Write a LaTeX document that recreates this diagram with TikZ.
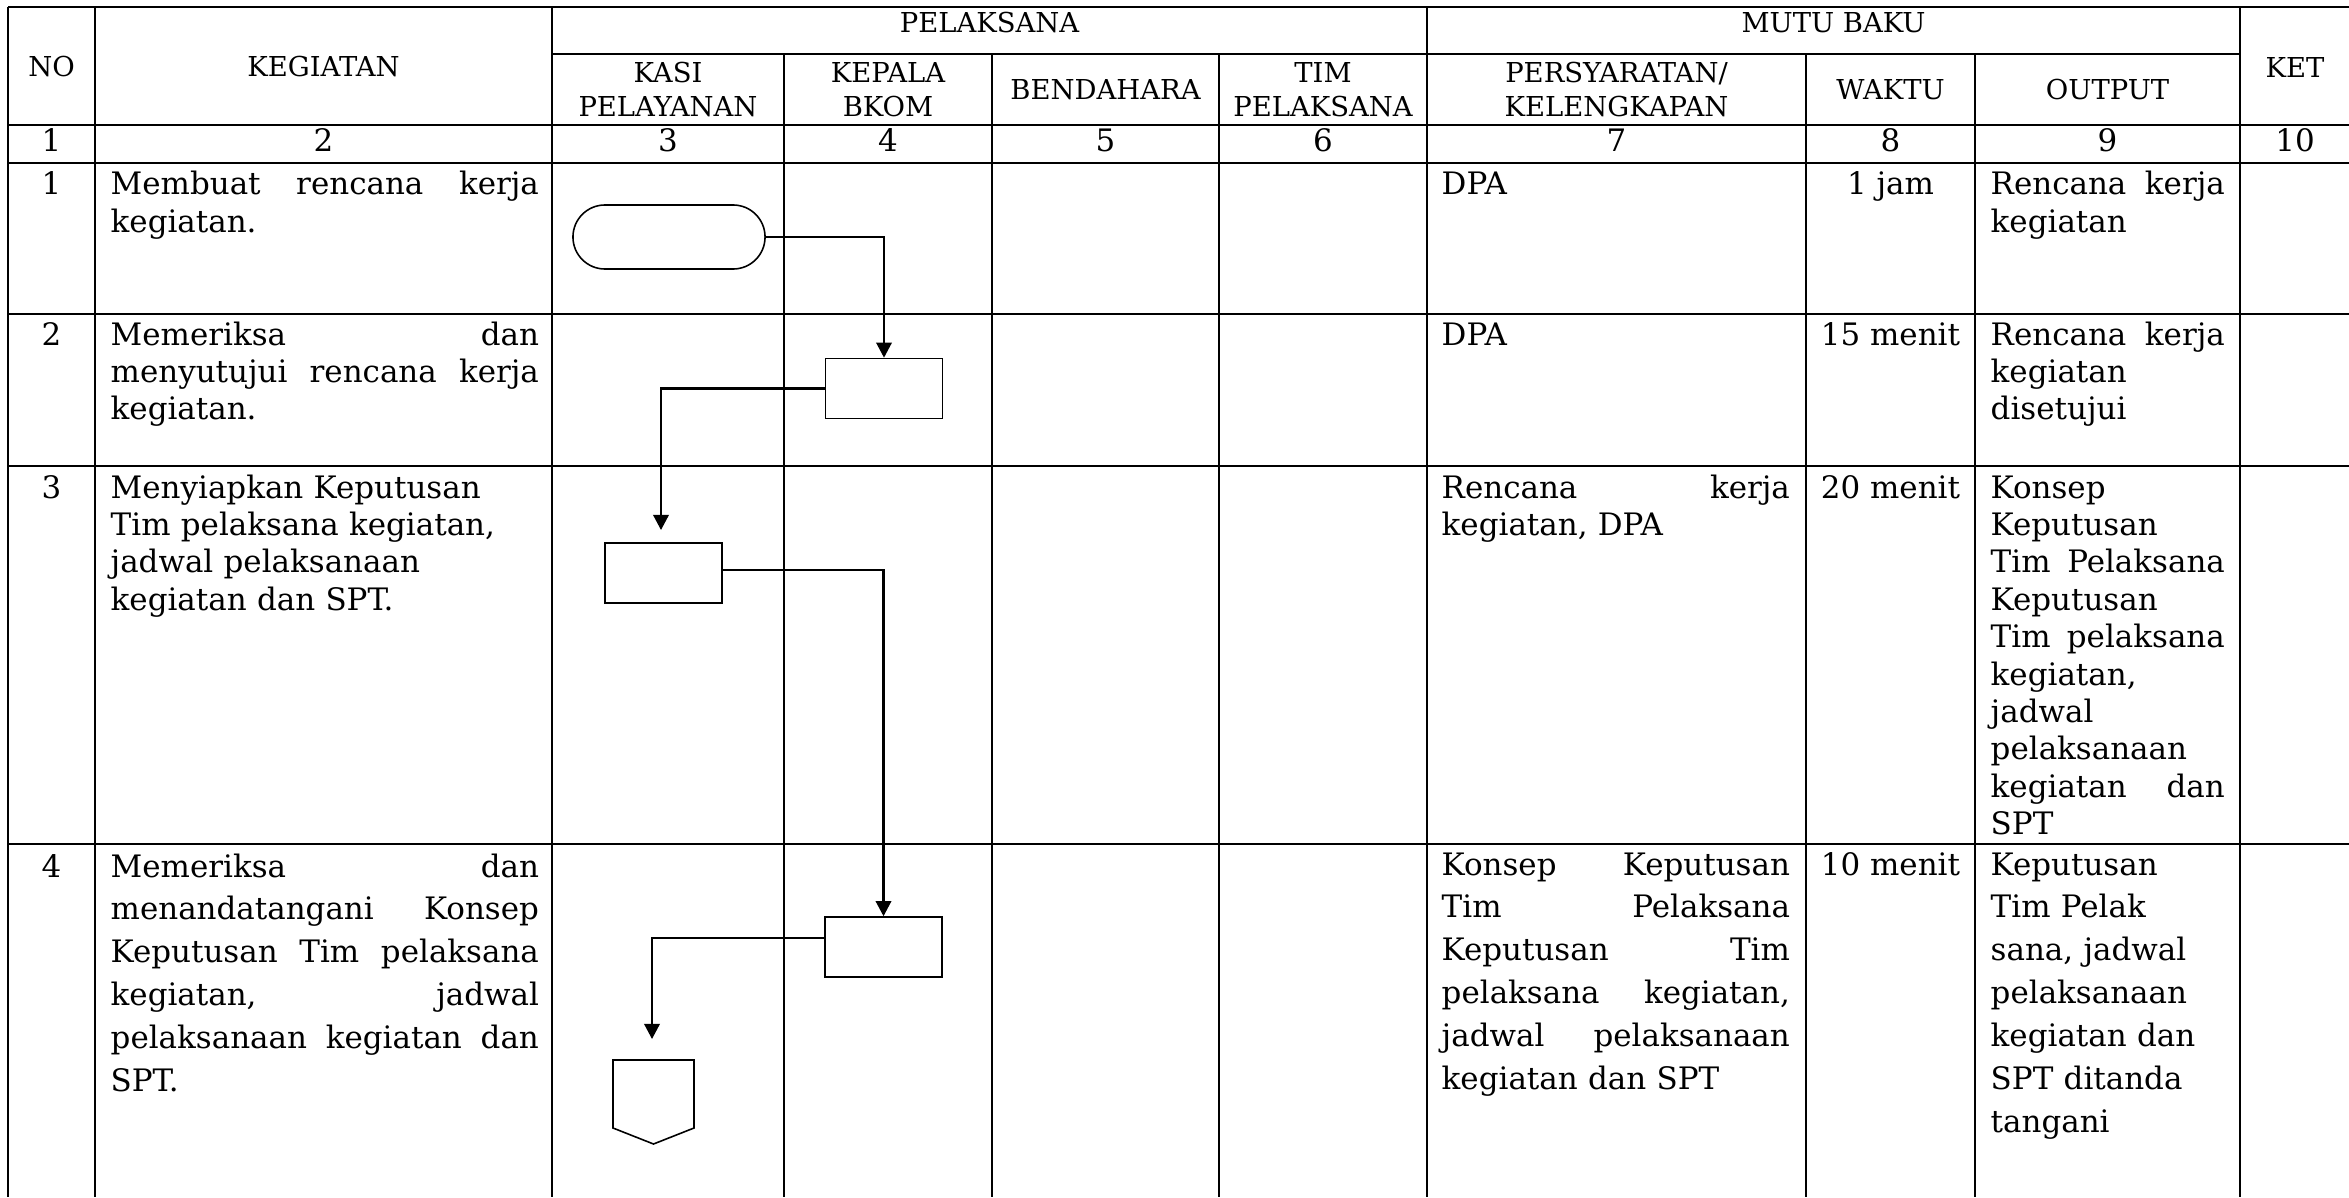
\documentclass[tikz,border=0pt]{standalone}
\usepackage{fontspec}
\setmainfont{DejaVu Serif}
\usetikzlibrary{arrows.meta}

\newlength{\celw}
\newcommand{\jl}[1]{\leavevmode\hbox to \celw{#1}}
\newcommand{\bodyfont}{\fontsize{8.8}{10.64}\selectfont}
\newcommand{\widefont}{\fontsize{8.8}{12.2}\selectfont}
\newcommand{\headfont}{\fontsize{7.8}{9.67}\selectfont}

\begin{document}
\begin{tikzpicture}[x=0.01cm,y=-0.01cm,>={Triangle[length=4.3pt,width=4.4pt]},grid line/.style={line width=0.55pt},flow line/.style={->,line width=0.6pt},head node/.style={inner sep=0pt,anchor=base,align=center,font=\headfont},num node/.style={inner sep=0pt,anchor=base,font=\bodyfont},text node/.style={inner sep=0pt,anchor=base west,align=left,font=\bodyfont},wide node/.style={text node,font=\widefont},keg col/.style={text width=4.28cm,execute at begin node={\setlength{\celw}{4.28cm}}},syarat col/.style={text width=3.48cm,execute at begin node={\setlength{\celw}{3.48cm}}},out col/.style={text width=2.34cm,execute at begin node={\setlength{\celw}{2.34cm}}},box node/.style={draw,line width=0.45pt,inner sep=0pt,minimum width=1.17cm,minimum height=0.6cm},term node/.style={box node,rounded corners=0.32cm,minimum width=1.92cm,minimum height=0.64cm}]
                \useasboundingbox (0,0) rectangle (2349,1197);

                \draw[grid line] (8,7) -- (2349,7);
                \draw[grid line] (552,54) -- (2240,54);
                \draw[grid line] (8,125) -- (2349,125);
                \draw[grid line] (8,163) -- (2349,163);
                \draw[grid line] (8,314) -- (2349,314);
                \draw[grid line] (8,466) -- (2349,466);
                \draw[grid line] (8,844) -- (2349,844);
                \draw[grid line] (8,7) -- (8,1197);
                \draw[grid line] (95,7) -- (95,1197);
                \draw[grid line] (552,7) -- (552,1197);
                \draw[grid line] (784,54) -- (784,1197);
                \draw[grid line] (992,54) -- (992,1197);
                \draw[grid line] (1219,54) -- (1219,1197);
                \draw[grid line] (1427,7) -- (1427,1197);
                \draw[grid line] (1806,54) -- (1806,1197);
                \draw[grid line] (1975,54) -- (1975,1197);
                \draw[grid line] (2240,7) -- (2240,1197);

                \node[head node] (h no) at (51.5,77) {NO};
                \node[head node] (h keg) at (323.5,77) {KEGIATAN};
                \node[head node] (h pel) at (989.5,33) {PELAKSANA};
                \node[head node] (h mutu) at (1833.5,33) {MUTU BAKU};
                \node[head node] (h ket) at (2295,78) {KET};
                \node[head node] (h kasi) at (668,117) {KASI\\PELAYANAN};
                \node[head node] (h kepala) at (888,117) {KEPALA\\BKOM};
                \node[head node] (h bend) at (1105.5,100) {BENDAHARA};
                \node[head node] (h tim) at (1323,117) {TIM\\PELAKSANA};
                \node[head node] (h syarat) at (1616.5,117) {PERSYARATAN/\\KELENGKAPAN};
                \node[head node] (h waktu) at (1890.5,100) {WAKTU};
                \node[head node] (h out) at (2107.5,100) {OUTPUT};

                \node[num node] (n1) at (51.5,152) {1};
                \node[num node] (n2) at (323.5,152) {2};
                \node[num node] (n3) at (668,152) {3};
                \node[num node] (n4) at (888,152) {4};
                \node[num node] (n5) at (1105.5,152) {5};
                \node[num node] (n6) at (1323,152) {6};
                \node[num node] (n7) at (1616.5,152) {7};
                \node[num node] (n8) at (1890.5,152) {8};
                \node[num node] (n9) at (2107.5,152) {9};
                \node[num node] (n10) at (2295,152) {10};

                \node[num node] (r1 no) at (51.5,195) {1};
                \node[text node,keg col] (r1 keg) at (110,195) {\jl{Membuat\hfill rencana\hfill kerja}\\kegiatan.};
                \node[text node] (r1 syarat) at (1441,195) {DPA};
                \node[num node] (r1 waktu) at (1890.5,195) {1 jam};
                \node[text node,out col] (r1 out) at (1990,195) {\jl{Rencana\hfill kerja}\\kegiatan};

                \node[num node] (r2 no) at (51.5,345) {2};
                \node[text node,keg col] (r2 keg) at (110,345) {\jl{Memeriksa\hfill dan}\\\jl{menyutujui\hfill rencana\hfill kerja}\\kegiatan.};
                \node[text node] (r2 syarat) at (1441,345) {DPA};
                \node[num node] (r2 waktu) at (1890.5,345) {15 menit};
                \node[text node,out col] (r2 out) at (1990,345) {\jl{Rencana\hfill kerja}\\kegiatan\\disetujui};

                \node[num node] (r3 no) at (51.5,498) {3};
                \node[text node,keg col] (r3 keg) at (110,498) {Menyiapkan Keputusan\\Tim pelaksana kegiatan,\\jadwal pelaksanaan\\kegiatan dan SPT.};
                \node[text node,syarat col] (r3 syarat) at (1441,498) {\jl{Rencana\hfill kerja}\\kegiatan, DPA};
                \node[num node] (r3 waktu) at (1890.5,498) {20 menit};
                \node[text node,out col] (r3 out) at (1990,498) {Konsep\\Keputusan\\\jl{Tim\hfill Pelaksana}\\Keputusan\\\jl{Tim\hfill pelaksana}\\kegiatan,\\jadwal\\pelaksanaan\\\jl{kegiatan\hfill dan}\\SPT};

                \node[num node] (r4 no) at (51.5,877) {4};
                \node[wide node,keg col] (r4 keg) at (110,877) {\jl{Memeriksa\hfill dan}\\\jl{menandatangani\hfill Konsep}\\\jl{Keputusan\hfill Tim\hfill pelaksana}\\\jl{kegiatan,\hfill jadwal}\\\jl{pelaksanaan\hfill kegiatan\hfill dan}\\SPT.};
                \node[wide node,syarat col] (r4 syarat) at (1441,875) {\jl{Konsep\hfill Keputusan}\\\jl{Tim\hfill Pelaksana}\\\jl{Keputusan\hfill Tim}\\\jl{pelaksana\hfill kegiatan,}\\\jl{jadwal\hfill pelaksanaan}\\kegiatan dan SPT};
                \node[num node] (r4 waktu) at (1890.5,875) {10 menit};
                \node[wide node,out col] (r4 out) at (1990,875) {Keputusan\\Tim Pelak\\sana, jadwal\\pelaksanaan\\kegiatan dan\\SPT ditanda\\tangani};

                \node[term node] (start) at (669,237) {};
                \node[box node] (check) at (884,388.5) {};
                \node[box node] (prep) at (663.5,573) {};
                \node[box node] (sign) at (883.5,947) {};
                \coordinate (prep in) at (661,530);
                \coordinate (out in) at (652,1039);
                \draw[line width=0.45pt] (613,1060) -- (694,1060) -- (694,1128) -- (653.5,1144) -- (613,1128) -- cycle;

                \draw[flow line] (start.east) -| (check.north);
                \draw[flow line] (check.west) -| (prep in);
                \draw[flow line] ([yshift=0.03cm]prep.east) -| (sign.north);
                \draw[flow line] ([yshift=0.09cm]sign.west) -| (out in);
            \end{tikzpicture}
\end{document}
